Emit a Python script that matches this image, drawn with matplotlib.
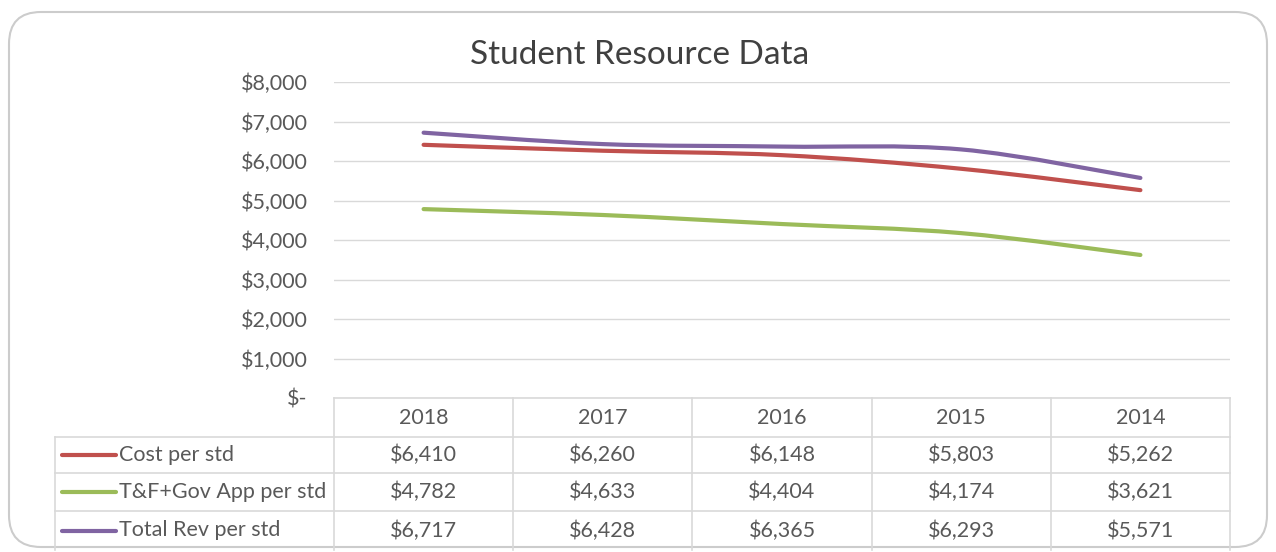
import matplotlib
matplotlib.use("Agg")
import matplotlib.pyplot as plt
import matplotlib.transforms as mtransforms
from matplotlib.path import Path
from matplotlib.patches import PathPatch, FancyBboxPatch
from matplotlib.lines import Line2D

plt.rcParams['font.family'] = ['Lato', 'DejaVu Sans']

years = ['2018', '2017', '2016', '2015', '2014']
series_names = ['Cost per std', 'T&F+Gov App per std', 'Total Rev per std']
cost = [6410, 6260, 6148, 5803, 5262]
tf_gov = [4782, 4633, 4404, 4174, 3621]
total_rev = [6717, 6428, 6365, 6293, 5571]
series = [cost, tf_gov, total_rev]
colors = ['#C0504D', '#9BBB59', '#8064A2']
yticks = [0, 1000, 2000, 3000, 4000, 5000, 6000, 7000, 8000]

W, H = 1276, 552
TXT = '#595959'
GRID = '#d9d9d9'
FS = 15.5


def smooth_path(xs, ys):
    # Excel style smoothed line: cubic bezier through every point
    pts = list(zip(xs, ys))
    n = len(pts)
    verts = [pts[0]]
    codes = [Path.MOVETO]
    for i in range(n - 1):
        p0 = pts[max(i - 1, 0)]
        p1 = pts[i]
        p2 = pts[i + 1]
        p3 = pts[min(i + 2, n - 1)]
        c1 = (p1[0] + (p2[0] - p0[0]) / 6, p1[1] + (p2[1] - p0[1]) / 6)
        c2 = (p2[0] - (p3[0] - p1[0]) / 6, p2[1] - (p3[1] - p1[1]) / 6)
        verts += [c1, c2, p2]
        codes += [Path.CURVE4] * 3
    return Path(verts, codes)


fig = plt.figure(figsize=(W / 100, H / 100), dpi=100)

# rounded chart frame
frame = FancyBboxPatch((9 / W, 5 / H), 1258 / W, 535 / H,
                       boxstyle='round,pad=0,rounding_size=0.025',
                       transform=fig.transFigure, facecolor='white',
                       edgecolor='#cccccc', linewidth=1.5, mutation_aspect=W / H,
                       zorder=-5)
fig.patches.append(frame)

ax_l, ax_r, ax_t, ax_b = 334, 1230, 82, 398
ax = fig.add_axes([ax_l / W, (H - ax_b) / H, (ax_r - ax_l) / W, (ax_b - ax_t) / H])
ax.set_facecolor('none')

x = list(range(len(years)))
for vals, c in zip(series, colors):
    ax.add_patch(PathPatch(smooth_path(x, vals), facecolor='none', edgecolor=c,
                           linewidth=3, capstyle='round', zorder=3))

ax.set_xlim(-0.5, len(years) - 0.5)
ax.set_ylim(0, 8000)
ax.set_yticks(yticks)
ax.set_yticklabels(['$-' if v == 0 else f'${v:,}' for v in yticks])
ax.tick_params(axis='y', length=0, pad=19, labelsize=FS, labelcolor=TXT)
ax.set_xticks([])
for s in ax.spines.values():
    s.set_visible(False)
ax.grid(axis='y', color=GRID, linewidth=1)
ax.set_axisbelow(True)

fig.text(640 / W, 1 - 55 / H, 'Student Resource Data', ha='center', va='center',
         fontsize=24, color='#404040')

# data table under the plot, x in data units, y in axes fraction
tr = mtransforms.blended_transform_factory(ax.transData, ax.transAxes)
ph = ax_b - ax_t
row_y = [0, -(437 - ax_b) / ph, -(473 - ax_b) / ph, -(511 - ax_b) / ph, -(550 - ax_b) / ph]
left_x = -0.5 - (ax_l - 55) / ((ax_r - ax_l) / len(years))
right_x = len(years) - 0.5
kw = dict(transform=tr, color=GRID, linewidth=1.2, clip_on=False)

ax.add_line(Line2D([-0.5, right_x], [0, 0], **kw))
for ry in row_y[1:4]:
    ax.add_line(Line2D([left_x, right_x], [ry, ry], **kw))
for i in range(len(years) + 1):
    ax.add_line(Line2D([i - 0.5, i - 0.5], [0, row_y[-1]], **kw))
ax.add_line(Line2D([left_x, left_x], [row_y[1], row_y[-1]], **kw))

for i, yr in enumerate(years):
    ax.text(i, (row_y[0] + row_y[1]) / 2, yr, transform=tr, ha='center', va='center',
            fontsize=FS, color=TXT, clip_on=False)

unit = (ax_r - ax_l) / len(years)
for r, (name, vals, c) in enumerate(zip(series_names, series, colors)):
    yc = (row_y[r + 1] + row_y[r + 2]) / 2
    x0 = left_x + 7 / unit
    x1 = left_x + 61 / unit
    ax.add_line(Line2D([x0, x1], [yc, yc], transform=tr, color=c, linewidth=3,
                       solid_capstyle='round', clip_on=False))
    ax.text(x1 + 3 / unit, yc, name, transform=tr, ha='left', va='center',
            fontsize=FS, color=TXT, clip_on=False)
    for i, v in enumerate(vals):
        ax.text(i, yc, f'${v:,}', transform=tr, ha='center', va='center',
                fontsize=FS, color=TXT, clip_on=False)

fig.savefig('out.png', dpi=100)
